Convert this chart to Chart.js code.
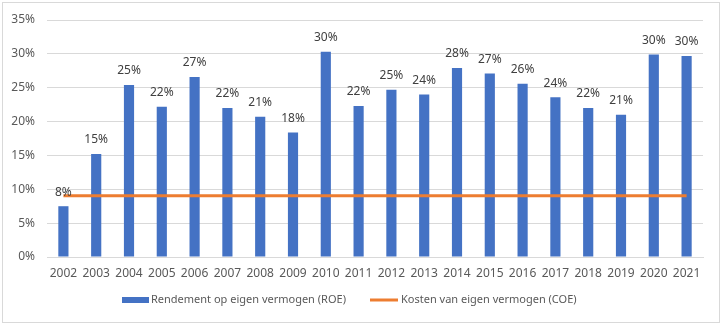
<!DOCTYPE html>
<html>
<head>
<meta charset="utf-8">
<script src="https://cdn.jsdelivr.net/npm/chart.js@4/dist/chart.umd.min.js"></script>
<style>
  html, body { margin: 0; padding: 0; background: #fff; }
  #wrap { width: 725px; height: 329px; position: relative; }
</style>
</head>
<body>
<div id="wrap"><canvas id="chart" width="725" height="329"></canvas></div>
<script>
const years = ["2002", "2003", "2004", "2005", "2006", "2007", "2008", "2009", "2010", "2011",
  "2012", "2013", "2014", "2015", "2016", "2017", "2018", "2019", "2020", "2021"];
const roe = [7.5, 15.2, 25.4, 22.2, 26.6, 22.0, 20.7, 18.4, 30.3, 22.3,
  24.7, 24.0, 27.9, 27.1, 25.6, 23.6, 22.0, 21.0, 29.9, 29.7];
const coe = years.map(() => 9.05);
const roeLabel = "Rendement op eigen vermogen (ROE)";
const coeLabel = "Kosten van eigen vermogen (COE)";

const FONT = "'Noto Sans', 'Open Sans', sans-serif";
const blue = "#4472C4";
const orange = "#ED7D31";

const bgAndFrame = {
  id: "bgAndFrame",
  beforeDraw(chart) {
    const ctx = chart.ctx;
    ctx.save();
    ctx.fillStyle = "#fff";
    ctx.fillRect(0, 0, chart.width, chart.height);
    ctx.strokeStyle = "#d9d9d9";
    ctx.lineWidth = 1;
    ctx.strokeRect(2.5, 2.5, 717, 320);
    ctx.restore();
  },
};

const barLabels = {
  id: "barLabels",
  afterDatasetsDraw(chart) {
    const ctx = chart.ctx;
    const meta = chart.getDatasetMeta(1);
    ctx.save();
    ctx.font = "12px " + FONT;
    ctx.fillStyle = "#404040";
    ctx.textAlign = "center";
    ctx.textBaseline = "middle";
    meta.data.forEach((bar, i) => {
      ctx.fillText(Math.round(roe[i]) + "%", bar.x, bar.y - 14);
    });
    ctx.restore();
  },
};

const legendPlugin = {
  id: "customLegend",
  afterDraw(chart) {
    const ctx = chart.ctx;
    const y = 300;
    ctx.save();
    ctx.font = "11px " + FONT;
    ctx.textBaseline = "middle";
    ctx.textAlign = "left";
    ctx.fillStyle = blue;
    ctx.fillRect(122, y - 3, 27, 6);
    ctx.fillStyle = "#595959";
    ctx.fillText(roeLabel, 151, y);
    ctx.strokeStyle = orange;
    ctx.lineWidth = 3;
    ctx.beginPath();
    ctx.moveTo(370, y);
    ctx.lineTo(398, y);
    ctx.stroke();
    ctx.fillText(coeLabel, 401, y);
    ctx.restore();
  },
};

new Chart(document.getElementById("chart"), {
  data: {
    labels: years,
    datasets: [
      {
        type: "line",
        label: coeLabel,
        data: coe,
        borderColor: orange,
        backgroundColor: orange,
        borderWidth: 3,
        pointRadius: 0,
        tension: 0,
        order: 0,
      },
      {
        type: "bar",
        label: roeLabel,
        data: roe,
        backgroundColor: blue,
        categoryPercentage: 1,
        barPercentage: 0.31,
        order: 1,
      },
    ],
  },
  options: {
    responsive: false,
    animation: false,
    layout: { padding: { top: 20, right: 22, left: 0, bottom: 0 } },
    plugins: {
      legend: { display: false },
      tooltip: { enabled: false },
    },
    scales: {
      x: {
        grid: { display: false, drawTicks: false },
        border: { color: "#d9d9d9" },
        ticks: {
          color: "#595959",
          padding: 9,
          maxRotation: 0,
          autoSkip: false,
          font: { size: 12, family: FONT },
        },
        afterFit(scale) { scale.height = 72; },
      },
      y: {
        min: 0,
        max: 35,
        grid: { color: "#d9d9d9", drawTicks: false },
        border: { display: false },
        ticks: {
          stepSize: 5,
          color: "#595959",
          padding: 12,
          font: { size: 12, family: FONT },
          callback: (v) => v + "%",
        },
        afterFit(scale) { scale.width = 47; },
      },
    },
  },
  plugins: [bgAndFrame, barLabels, legendPlugin],
});
</script>
</body>
</html>
